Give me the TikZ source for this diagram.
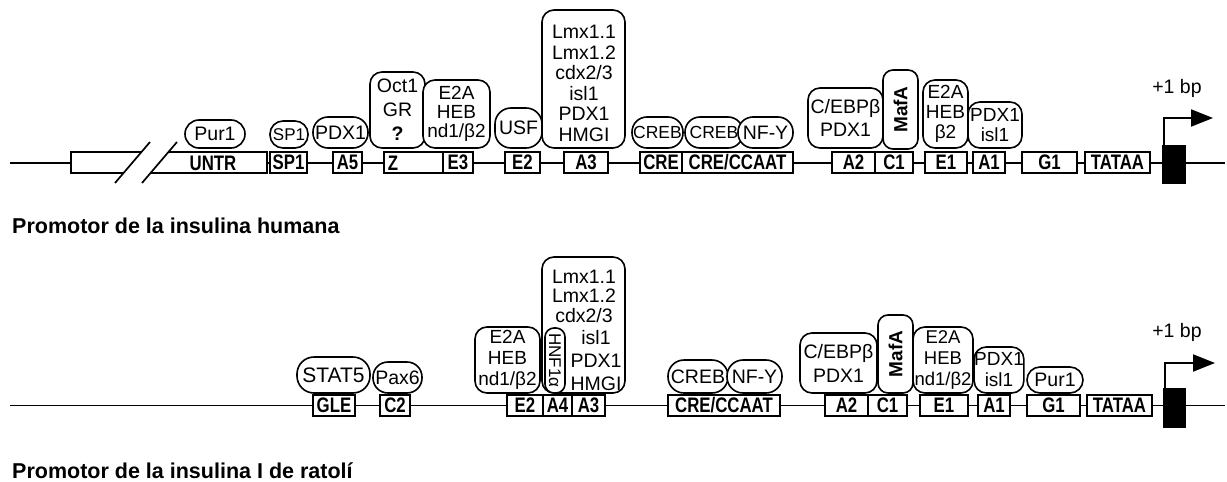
\documentclass[tikz,border=0pt]{standalone}
\usepackage{fontspec}
\setmainfont{Liberation Sans}
\newfontfamily\sitefont[FakeStretch=0.8]{Liberation Sans}
\usetikzlibrary{arrows.meta}
\newcommand\bx[7][]{%
  \pgfmathsetmacro\mybw{#4-#3}%
  \pgfmathsetmacro\mybh{#6-#5}%
  \node[#1,minimum width=\mybw pt,minimum height=\mybh pt] (#2) at ({(#3+#4)/2},{(#5+#6)/2}) {#7};}
\tikzset{
  dna/.style={line width=1.7pt},
  site/.style={draw, line width=1.7pt, fill=white, inner sep=0pt, font=\sitefont\bfseries\fontsize{21}{21}\selectfont},
  sitetext/.style={inner sep=0pt, font=\sitefont\bfseries\fontsize{21}{21}\selectfont},
  tf/.style={draw, line width=1.6pt, fill=white, rounded corners=12pt, inner sep=0pt, align=center, font=\fontsize{19.5}{20}\selectfont},
  tftext/.style={inner sep=0pt, align=center, font=\fontsize{19.5}{20.5}\selectfont},
  blk/.style={draw, fill=black, line width=1pt, inner sep=0pt},
  tss/.style={line width=2pt, -{Triangle[length=22pt,width=17pt]}},
  bp/.style={inner sep=0pt, font=\fontsize{19.5}{19.5}\selectfont},
  title/.style={anchor=west, inner sep=0pt, font=\bfseries\fontsize{21.5}{22}\selectfont},
}
\begin{document}
\begin{tikzpicture}[x=1pt,y=-1pt]
\useasboundingbox (0,0) rectangle (1227,482);
% ================= Row 1: human =================
\coordinate (l1a) at (10,163);
\coordinate (l1b) at (1225,163);
\draw[dna] (l1a) -- (l1b);
\bx[site]{untr}{71}{267}{152}{173}{}
\coordinate (s1a) at (115,183); \coordinate (s1b) at (150,142);
\coordinate (s2a) at (142,183); \coordinate (s2b) at (177,142);
\fill[white] (s1a) -- (s1b) -- (s2b) -- (s2a) -- cycle;
\draw[dna] (s1a) -- (s1b) (s2a) -- (s2b);
\node[sitetext] (untrt) at (213,163) {UNTR};
\bx[site]{sp1}{270}{307}{152}{173}{SP1}
\bx[site]{a5}{333}{362}{152}{173}{A5}
\bx[site]{zbox}{384}{443}{152}{173}{}
\node[sitetext] (zt) at (393,163) {Z};
\bx[site]{e3}{443}{473}{152}{173}{E3}
\bx[site]{e2h}{505}{540}{152}{173}{E2}
\bx[site]{a3h}{564}{608}{152}{173}{A3}
\bx[site]{creh}{640}{682}{152}{173}{CRE}
\bx[site]{ccaath}{682}{793}{152}{173}{CRE/CCAAT}
\bx[site]{a2h}{832}{875}{152}{173}{A2}
\bx[site]{c1h}{875}{913}{152}{173}{C1}
\bx[site]{e1h}{925}{967}{152}{173}{E1}
\bx[site]{a1h}{973}{1005}{152}{173}{A1}
\bx[site]{g1h}{1022}{1077}{152}{173}{G1}
\bx[site]{tatah}{1085}{1150}{152}{173}{TATAA}
\bx[blk]{blkh}{1162}{1185}{145}{183}{}
% factors
\bx[tf,rounded corners=14pt]{pur1h}{185}{245}{120}{148}{Pur1}
\bx[tf,rounded corners=13pt,font=\fontsize{17}{17}\selectfont]{sp1f}{270}{308}{121}{148}{SP1}
\bx[tf,rounded corners=15pt]{pdx1f}{313}{368}{117}{148}{PDX1}
\bx[tf,font=\fontsize{19.5}{24}\selectfont]{oct1}{370}{425}{72}{148}{Oct1\\GR\\\textbf{?}}
\bx[tf,font=\fontsize{19}{19}\selectfont]{e2ah}{423}{490}{80}{148}{E2A\\HEB\\nd1/β2}
\bx[tf,rounded corners=16pt]{usf}{495}{542}{108}{148}{USF}
\bx[tf]{lmxh}{542}{625}{10}{148}{}
\node[tftext] (lmxht) at (584,83.5) {Lmx1.1\\Lmx1.2\\cdx2/3\\isl1\\PDX1\\HMGI};
\bx[tf,rounded corners=15pt,font=\fontsize{17.5}{17.5}\selectfont]{creb2h}{685}{743}{117}{148}{CREB}
\bx[tf,rounded corners=15pt,font=\fontsize{17.5}{17.5}\selectfont]{creb1h}{632}{683}{117}{148}{CREB}
\bx[tf,rounded corners=15pt]{nfyh}{738}{793}{117}{148}{NF-Y}
\bx[tf,font=\fontsize{19.5}{23}\selectfont]{cebph}{808}{883}{88}{148}{C/EBPβ\\PDX1}
\node[tf,rounded corners=10pt,rotate=90,minimum width=79pt,minimum height=35pt,font=\bfseries\fontsize{19}{19}\selectfont] (mafah) at (900.5,109.5) {MafA};
\bx[tf,font=\fontsize{19}{20}\selectfont]{e2ah2}{923}{968}{80}{148}{E2A\\HEB\\β2}
\bx[tf,font=\fontsize{19}{20}\selectfont]{pdxislh}{968}{1022}{102}{148}{PDX1\\isl1}
% TSS
\coordinate (tiph) at (1213,118);
\draw[tss] ([xshift=2pt]blkh.north west) |- (tiph);
\node[bp] (bph) at (1177,88) {+1 bp};
\node[title] (t1) at (12,226) {Promotor de la insulina humana};
% ================= Row 2: rat =================
\coordinate (l2a) at (10,405.5);
\coordinate (l2b) at (1225,405.5);
\draw[dna] (l2a) -- (l2b);
\bx[site]{gle}{313}{355}{395}{416}{GLE}
\bx[site]{c2}{380}{410}{395}{416}{C2}
\bx[site]{e2r}{507}{543}{395}{416}{E2}
\bx[site]{a4r}{543}{572}{395}{416}{A4}
\bx[site]{a3r}{572}{605}{395}{416}{A3}
\bx[site]{ccaatr}{668}{780}{395}{416}{CRE/CCAAT}
\bx[site]{a2r}{825}{868}{395}{416}{A2}
\bx[site]{c1r}{868}{907}{395}{416}{C1}
\bx[site]{e1r}{920}{968}{395}{416}{E1}
\bx[site]{a1r}{978}{1010}{395}{416}{A1}
\bx[site]{g1r}{1027}{1080}{395}{416}{G1}
\bx[site]{tatar}{1087}{1152}{395}{416}{TATAA}
\bx[blk]{blkr}{1163}{1185}{388}{427}{}
% factors
\bx[tf,rounded corners=17pt,font=\fontsize{21}{21}\selectfont]{stat5}{297}{370}{357}{393}{STAT5}
\bx[tf,rounded corners=15pt]{pax6}{373}{422}{362}{393}{Pax6}
\bx[tf,font=\fontsize{19}{21}\selectfont]{e2ar}{475}{540}{327}{393}{E2A\\HEB\\nd1/β2}
\bx[tf]{lmxr}{542}{625}{257}{393}{}
\node[tftext,font=\fontsize{19.5}{19.5}\selectfont] (lmxrt1) at (584,296) {Lmx1.1\\Lmx1.2\\cdx2/3};
\node[tftext,font=\fontsize{19.5}{23}\selectfont] (lmxrt2) at (596,361) {isl1\\PDX1\\HMGI};
\node[tf,rounded corners=9pt,rotate=-90,minimum width=65pt,minimum height=20pt,font=\fontsize{17}{17}\selectfont] (hnf) at (555,360.5) {HNF1α};
\bx[tf,rounded corners=16pt]{crebr}{668}{728}{360}{393}{CREB}
\bx[tf,rounded corners=16pt]{nfyr}{727}{782}{360}{393}{NF-Y}
\bx[tf,font=\fontsize{19.5}{24}\selectfont]{cebpr}{800}{877}{333}{393}{C/EBPβ\\PDX1}
\node[tf,rounded corners=10pt,rotate=90,minimum width=78pt,minimum height=35pt,font=\bfseries\fontsize{19}{19}\selectfont] (mafar) at (895.5,354) {MafA};
\bx[tf,font=\fontsize{18.5}{21}\selectfont]{e2ar2}{913}{973}{327}{393}{E2A\\HEB\\nd1/β2}
\bx[tf,font=\fontsize{19}{21}\selectfont]{pdxislr}{975}{1023}{347}{393}{PDX1\\isl1}
\bx[tf,rounded corners=13pt]{pur1r}{1027}{1083}{367}{393}{Pur1}
% TSS
\coordinate (tipr) at (1215,363);
\draw[tss] ([xshift=2pt]blkr.north west) |- (tipr);
\node[bp] (bpr) at (1177,332) {+1 bp};
\node[title] (t2) at (12,471) {Promotor de la insulina I de ratolí};
\end{tikzpicture}
\end{document}
